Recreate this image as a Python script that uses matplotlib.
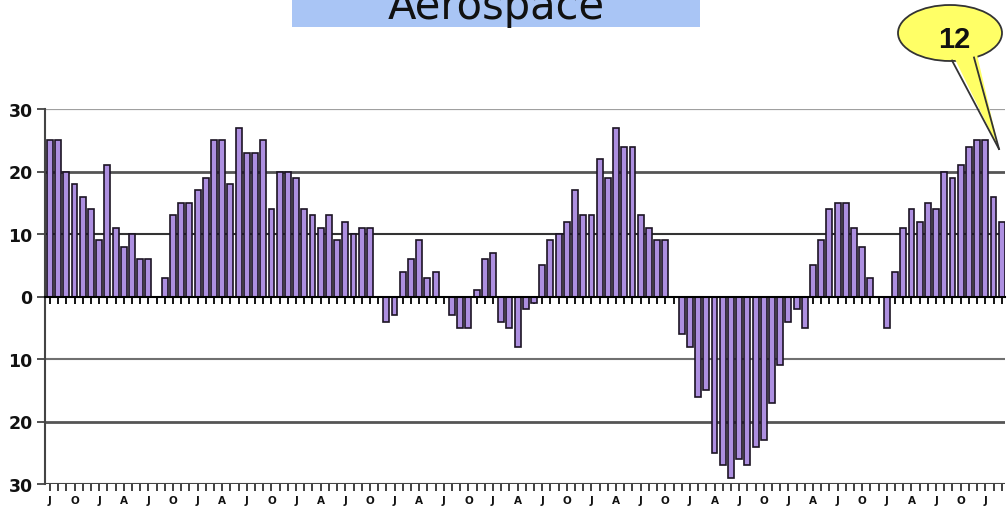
import matplotlib
matplotlib.use("Agg")
import matplotlib.pyplot as plt
import numpy as np
from matplotlib.patches import Rectangle, Ellipse, Polygon
from matplotlib.lines import Line2D
from matplotlib.ticker import FixedLocator, FuncFormatter

# Monthly balance values (Jul ... Mar), one bar per month
values = [25, 25, 20, 18, 16, 14, 9, 21, 11, 8, 10, 6, 6, 0, 3, 13, 15, 15,
          17, 19, 25, 25, 18, 27, 23, 23, 25, 14, 20, 20, 19, 14, 13, 11, 13, 9,
          12, 10, 11, 11, 0, -4, -3, 4, 6, 9, 3, 4, 0, -3, -5, -5, 1, 6, 7,
          -4, -5, -8, -2, -1, 5, 9, 10, 12, 17, 13, 13, 22, 19, 27, 24, 24,
          13, 11, 9, 9, 0,
          -6, -8, -16, -15, -25, -27, -29, -26, -27, -24, -23, -17, -11, -4, -2, -5,
          5, 9, 14, 15, 15, 11, 8, 3, 0, -5, 4, 11, 14, 12, 15, 14, 20, 19,
          21, 24, 25, 25, 16, 12]

# Quarter labels, one every third month
quarter_labels = ["J", "O", "J", "A", "J", "O", "J", "A", "J", "O", "J", "A",
                  "J", "O", "J", "A", "J", "O", "J", "A", "J", "O", "J", "A",
                  "J", "O", "J", "A", "J", "O", "J", "A", "J", "O", "J", "A",
                  "J", "O", "J"]

y_ticks = [-30, -20, -10, 0, 10, 20, 30]
title = "Aerospace"
callout_text = "12"

W, H = 1008, 510
fig = plt.figure(figsize=(W / 100, H / 100), dpi=100)
fig.patch.set_facecolor("white")


def fx(px):
    return px / W


def fy(py):
    return 1 - py / H


ax = fig.add_axes([fx(45), fy(485), fx(1005) - fx(45), fy(110) - fy(485)])
x = np.arange(len(values))

# horizontal reference lines
grid_style = {30: ("#a0a0a0", 1.6), 20: ("#555555", 2.0), 10: ("#333333", 1.5),
              -10: ("#707070", 1.5), -20: ("#555555", 2.0), -30: ("#444444", 1.5)}
for yv, (c, lw) in grid_style.items():
    ax.axhline(yv, color=c, lw=lw, zorder=1)

ax.bar(x, values, width=0.72, color="#ad8fe0", edgecolor="#1c1424",
       linewidth=1.2, zorder=3)

ax.set_xlim(-0.6, len(values) - 0.6)
ax.set_ylim(-30, 30)

# category axis crossing at zero: monthly tick marks, no labels
ax.spines["bottom"].set_position(("data", 0))
ax.spines["bottom"].set_color("black")
ax.spines["bottom"].set_linewidth(1.5)
ax.spines["bottom"].set_zorder(4)
ax.xaxis.set_major_locator(FixedLocator(x))
ax.tick_params(axis="x", which="major", direction="out", length=5, width=1.3,
               color="black", labelbottom=False)

for s in ("top", "right"):
    ax.spines[s].set_visible(False)
ax.spines["left"].set_color("#444444")
ax.spines["left"].set_linewidth(1.5)

ax.set_yticks(y_ticks)
ax.yaxis.set_major_formatter(FuncFormatter(lambda v, p: f"{abs(v):.0f}"))
ax.tick_params(axis="y", direction="out", length=6, width=1.3, color="#444444",
               labelsize=12.5, pad=3)
for lab in ax.get_yticklabels():
    lab.set_fontweight("bold")
    lab.set_color("#111111")

# bottom axis with quarter labels
sec = ax.secondary_xaxis(0.0)
sec.set_xticks(x[::3], labels=quarter_labels)
sec.xaxis.set_minor_locator(FixedLocator(x))
sec.tick_params(axis="x", which="major", length=5, width=1.3, color="#333333",
                labelsize=7.5, pad=3)
sec.tick_params(axis="x", which="minor", length=5, width=1.3, color="#333333")
sec.spines["bottom"].set_visible(False)
for lab in sec.get_xticklabels():
    lab.set_fontweight("bold")
    lab.set_color("#111111")

# title banner (runs off the top edge)
fig.patches.append(Rectangle((fx(292), fy(28)), fx(700) - fx(292), fy(-5) - fy(28),
                             transform=fig.transFigure, facecolor="#a9c5f5",
                             edgecolor="none", zorder=0))
fig.text(fx(496), fy(19), title, ha="center", va="baseline", fontsize=30,
         color="#111111", family="DejaVu Sans")

# speech bubble
cx, cy, rw, rh = 950, 34, 104, 56
tip = (999, 150)
fig.patches.append(Ellipse((fx(cx), fy(cy)), fx(rw), rh / H, transform=fig.transFigure,
                           facecolor="#ffff66", edgecolor="#333333", lw=1.3, zorder=5))
fig.patches.append(Polygon([(fx(950), fy(50)), (fx(975), fy(47)), (fx(tip[0]), fy(tip[1]))],
                           closed=True, transform=fig.transFigure,
                           facecolor="#ffff66", edgecolor="none", zorder=6))
for sx, sy in ((952, 61.5), (974, 58.5)):
    fig.lines.append(Line2D([fx(sx), fx(tip[0])], [fy(sy), fy(tip[1])],
                            transform=fig.transFigure, color="#333333", lw=1.3, zorder=7))
fig.text(fx(954), fy(40), callout_text, ha="center", va="center", fontsize=21,
         fontweight="bold", family="Liberation Sans", color="#111111", zorder=8)

fig.savefig("out.png", dpi=100)
